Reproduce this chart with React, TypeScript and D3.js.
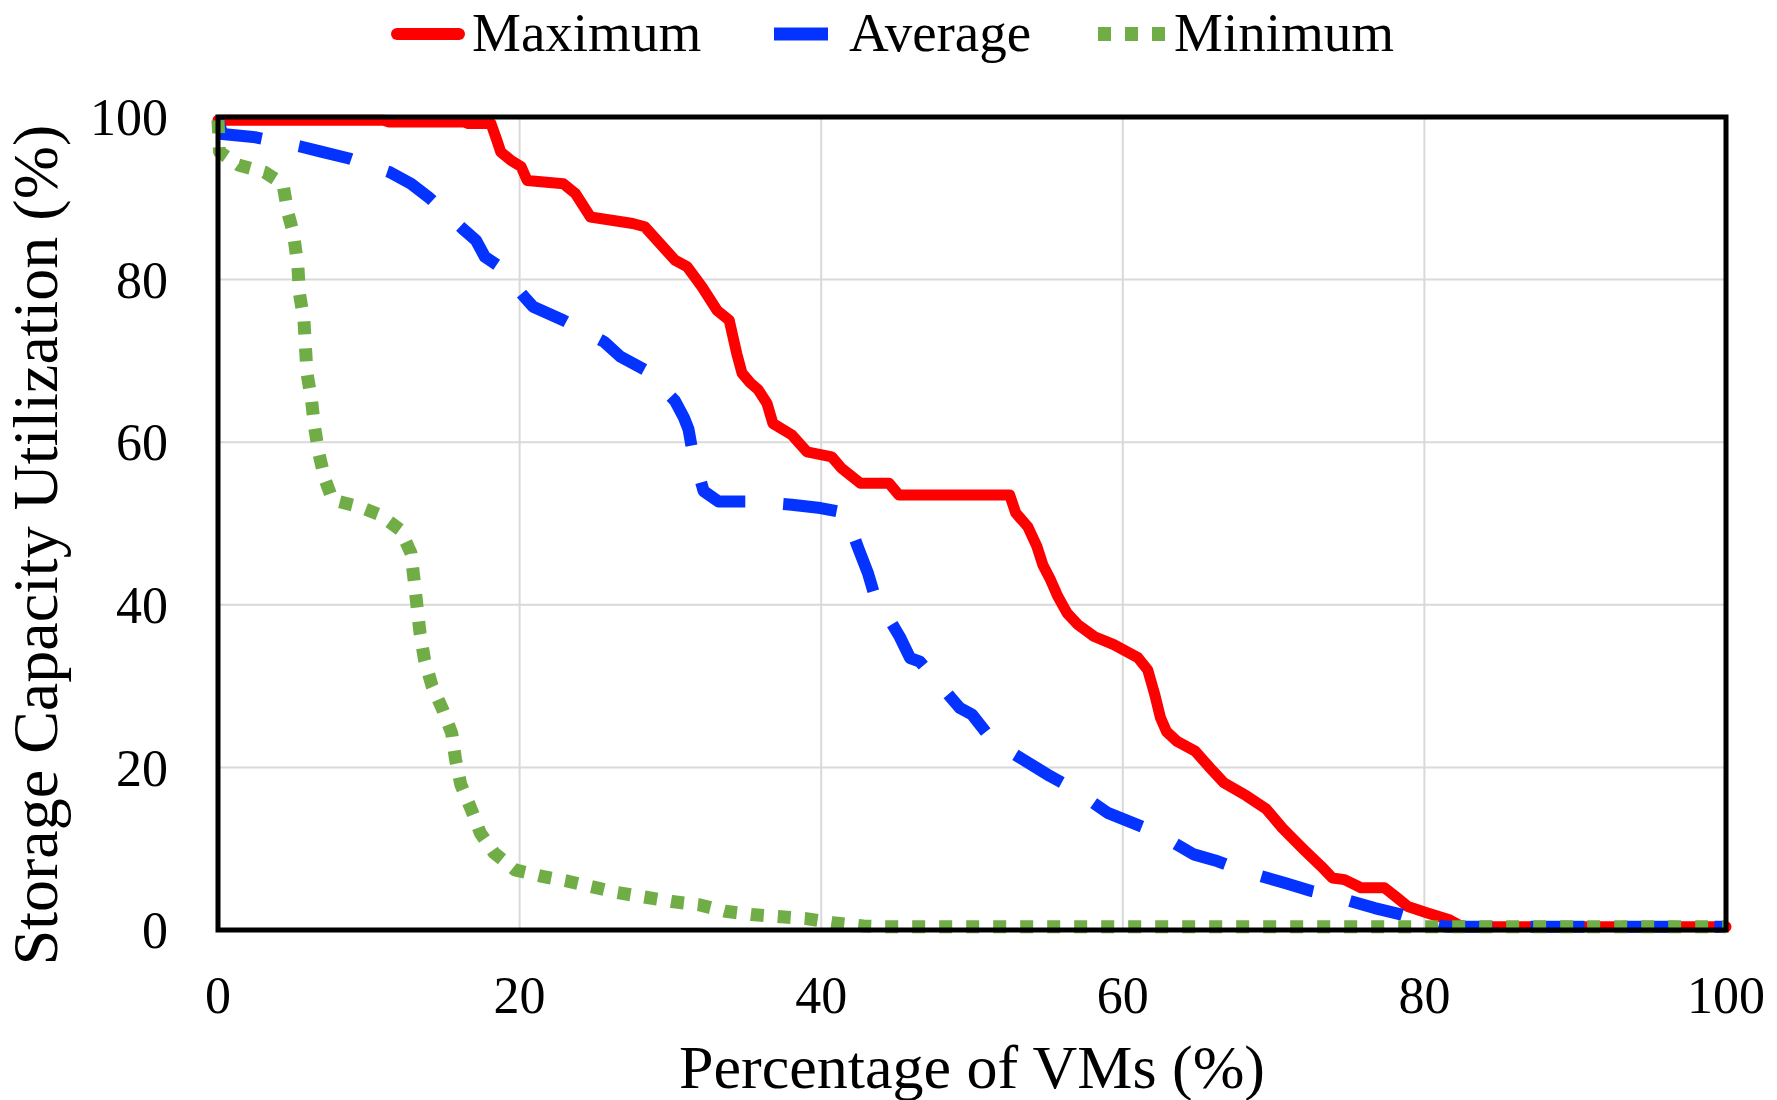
import * as d3 from "d3";
import { useCallback } from "react";

// Values (percentage of VMs, utilization %)
const maxX = [0, 11.0, 11.3, 16.3, 16.6, 18.1, 18.5, 18.75, 19.4, 20.1, 20.5, 22.9, 23.7, 24.7, 27.5, 28.3, 30.3, 31.1, 32.1, 33.1, 33.9, 34.4, 34.75, 35.3, 35.8, 36.4, 36.8, 38.05, 39.06, 40.7, 41.35, 42.6, 44.5, 45.15, 52.5, 52.9, 53.7, 54.3, 54.7, 55.2, 55.7, 56.3, 57.0, 58.1, 59.4, 61.0, 61.65, 62.1, 62.5, 62.9, 63.6, 64.8, 65.9, 66.7, 68.2, 69.5, 70.6, 72.0, 73.15, 73.9, 74.7, 75.8, 77.35, 78.2, 78.9, 80.2, 81.6, 82.3, 82.8, 100];
const maxY = [99.6, 99.6, 99.4, 99.4, 99.2, 99.2, 97.1, 95.7, 94.7, 93.9, 92.2, 91.8, 90.6, 87.7, 86.9, 86.5, 82.4, 81.6, 79.1, 76.2, 75.0, 70.9, 68.5, 67.3, 66.5, 64.8, 62.3, 60.9, 58.8, 58.2, 56.8, 54.95, 54.95, 53.5, 53.5, 51.3, 49.6, 47.2, 44.9, 43.1, 41.0, 39.0, 37.6, 36.1, 35.1, 33.5, 32.0, 29.1, 26.1, 24.4, 23.2, 22.0, 19.7, 18.1, 16.5, 14.9, 12.5, 9.9, 7.85, 6.4, 6.2, 5.2, 5.2, 3.95, 2.9, 2.1, 1.3, 0.6, 0.4, 0.4];

const avgX = [0, 0.3, 2.5, 5.4, 6.7, 8.7, 11.4, 12.8, 14.05, 16.2, 17.1, 17.7, 18.5, 20.4, 20.9, 22.9, 25.6, 26.7, 28.3, 30.3, 30.9, 31.2, 31.45, 32.2, 33.2, 35.4, 38.05, 39.95, 41.6, 42.5, 43.1, 43.5, 45.2, 45.9, 46.55, 47.2, 49.2, 50.0, 51.4, 53.8, 55.2, 56.6, 59.0, 62.1, 64.7, 66.3, 68.1, 70.7, 72.5, 73.9, 76.7, 78.5, 79.9, 81.1, 81.6, 100];
const avgY = [99.6, 97.9, 97.5, 96.4, 95.8, 94.9, 93.2, 91.8, 90.0, 86.3, 84.85, 82.8, 81.8, 77.7, 76.65, 75.0, 72.35, 70.5, 68.9, 65.1, 63.0, 61.6, 59.0, 54.0, 52.7, 52.7, 52.3, 51.9, 51.3, 46.75, 43.9, 41.4, 36.1, 33.45, 33.0, 31.6, 27.3, 26.5, 23.2, 20.5, 18.9, 17.5, 14.4, 12.1, 9.3, 8.45, 7.2, 5.8, 4.8, 4.2, 2.7, 1.9, 1.1, 0.5, 0.4, 0.4];

const minX = [0, 0.1, 1.35, 3.1, 4.3, 4.65, 5.0, 5.3, 5.4, 5.7, 5.8, 5.9, 6.2, 6.4, 6.7, 7.1, 7.6, 9.3, 10.7, 12.1, 12.8, 13.0, 13.2, 13.4, 13.7, 14.2, 14.9, 15.5, 15.75, 16.1, 16.8, 17.4, 18.3, 19.7, 21.5, 23.2, 26.5, 30.1, 31.9, 33.65, 35.4, 39.0, 40.8, 42.8, 44, 100];
const minY = [99.6, 95.7, 94.1, 93.2, 91.8, 88.1, 85.7, 81.6, 78.3, 75.0, 71.7, 68.5, 65.2, 61.9, 58.5, 55.4, 52.9, 52.1, 51.1, 49.2, 46.35, 43.1, 39.8, 36.5, 33.2, 30.0, 27.1, 24.2, 21.0, 17.9, 14.8, 11.9, 9.5, 7.4, 6.6, 6.0, 4.6, 3.5, 3.1, 2.3, 1.9, 1.4, 0.9, 0.5, 0.4, 0.4];

const seriesNames = ["Maximum", "Average", "Minimum"];
const tickValues = [0, 20, 40, 60, 80, 100];

interface Point {
  x: number;
  y: number;
}

function zip(xs: number[], ys: number[]): Point[] {
  return xs.map((x, i) => ({ x, y: ys[i] }));
}

export default function App() {
  const renderChart = useCallback((chartRef: HTMLDivElement | null) => {
    if (!chartRef) return;

    const width = 1777;
    const height = 1100;
    const margin = { top: 117, right: 51, bottom: 170, left: 218 };
    const innerW = width - margin.left - margin.right;
    const innerH = height - margin.top - margin.bottom;
    const font = "'Liberation Serif', 'Times New Roman', serif";

    const svg = d3
      .select(chartRef)
      .append("svg")
      .attr("width", width)
      .attr("height", height)
      .style("display", "block")
      .style("background", "#fff");

    const g = svg
      .append("g")
      .attr("transform", `translate(${margin.left},${margin.top})`);

    const xScale = d3.scaleLinear().domain([0, 100]).range([0, innerW]);
    const yScale = d3.scaleLinear().domain([0, 100]).range([innerH, 0]);

    // Grid lines
    g.selectAll("line.vgrid")
      .data(tickValues.slice(1, -1))
      .enter()
      .append("line")
      .attr("x1", (d) => xScale(d))
      .attr("x2", (d) => xScale(d))
      .attr("y1", 0)
      .attr("y2", innerH)
      .attr("stroke", "#d9d9d9")
      .attr("stroke-width", 2);

    g.selectAll("line.hgrid")
      .data(tickValues.slice(1, -1))
      .enter()
      .append("line")
      .attr("x1", 0)
      .attr("x2", innerW)
      .attr("y1", (d) => yScale(d))
      .attr("y2", (d) => yScale(d))
      .attr("stroke", "#d9d9d9")
      .attr("stroke-width", 2);

    const line = d3
      .line<Point>()
      .x((d) => xScale(d.x))
      .y((d) => yScale(d.y));

    const series = [
      { name: seriesNames[0], data: zip(maxX, maxY), color: "#ff0000", w: 11, dash: null, cap: "round" },
      { name: seriesNames[1], data: zip(avgX, avgY), color: "#0433ff", w: 12, dash: "54 38", cap: "butt" },
      { name: seriesNames[2], data: zip(minX, minY), color: "#70ad47", w: 13, dash: "13 14", cap: "butt" },
    ];

    series.forEach((s) => {
      g.append("path")
        .datum(s.data)
        .attr("fill", "none")
        .attr("stroke", s.color)
        .attr("stroke-width", s.w)
        .attr("stroke-linejoin", "round")
        .attr("stroke-linecap", s.cap)
        .attr("stroke-dasharray", s.dash)
        .attr("d", line);
    });

    // Plot border
    g.append("rect")
      .attr("x", 0)
      .attr("y", 0)
      .attr("width", innerW)
      .attr("height", innerH)
      .attr("fill", "none")
      .attr("stroke", "#000")
      .attr("stroke-width", 5);

    // Tick labels
    g.selectAll("text.ytick")
      .data(tickValues)
      .enter()
      .append("text")
      .attr("x", -50)
      .attr("y", (d) => yScale(d))
      .attr("dy", "0.35em")
      .attr("text-anchor", "end")
      .attr("font-family", font)
      .attr("font-size", 52)
      .attr("fill", "#000")
      .text((d) => d);

    g.selectAll("text.xtick")
      .data(tickValues)
      .enter()
      .append("text")
      .attr("x", (d) => xScale(d))
      .attr("y", innerH + 83)
      .attr("text-anchor", "middle")
      .attr("font-family", font)
      .attr("font-size", 52)
      .attr("fill", "#000")
      .text((d) => d);

    // Axis titles
    svg
      .append("text")
      .attr("x", margin.left + innerW / 2)
      .attr("y", 1088)
      .attr("text-anchor", "middle")
      .attr("font-family", font)
      .attr("font-size", 62)
      .attr("fill", "#000")
      .text("Percentage of VMs (%)");

    svg
      .append("text")
      .attr("transform", `translate(57,545) rotate(-90)`)
      .attr("text-anchor", "middle")
      .attr("font-family", font)
      .attr("font-size", 64)
      .attr("fill", "#000")
      .text("Storage Capacity Utilization (%)");

    // Legend
    const legend = [
      { x1: 397, x2: 459, tx: 472 },
      { x1: 774, x2: 828, tx: 849 },
      { x1: 1098, x2: 1168, tx: 1174 },
    ];
    series.forEach((s, i) => {
      svg
        .append("line")
        .attr("x1", legend[i].x1)
        .attr("x2", legend[i].x2)
        .attr("y1", 34)
        .attr("y2", 34)
        .attr("stroke", s.color)
        .attr("stroke-width", s.w + 1)
        .attr("stroke-linecap", s.cap)
        .attr("stroke-dasharray", s.dash);
      svg
        .append("text")
        .attr("x", legend[i].tx)
        .attr("y", 51)
        .attr("font-family", font)
        .attr("font-size", 55)
        .attr("fill", "#000")
        .text(s.name);
    });

    return () => {
      svg.remove();
    };
  }, []);

  return (
    <div
      ref={renderChart}
      style={{ position: "absolute", left: 0, top: 0, width: 1777, height: 1100 }}
    ></div>
  );
}
